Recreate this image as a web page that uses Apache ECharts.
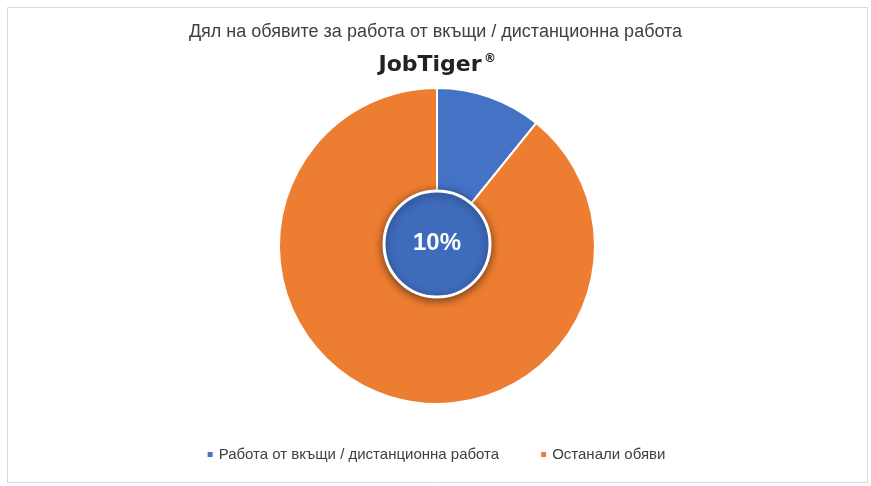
<!DOCTYPE html>
<html><head><meta charset="utf-8">
<script src="https://cdn.jsdelivr.net/npm/echarts@6/dist/echarts.min.js"></script>
<style>html,body{margin:0;padding:0;background:#fff}#c{width:871px;height:486px}</style>
</head><body><div id="c"></div>
<script>
const categories = ['Работа от вкъщи / дистанционна работа', 'Останали обяви'];
const values = [10.8, 89.2];
const centerLabel = '10%';
const colors = ['#4472C4', '#ED7D31'];
const chart = echarts.init(document.getElementById('c'));
chart.setOption({
  animation: false,
  title: {text: 'Дял на обявите за работа от вкъщи / дистанционна работа', left: 'center', top: 18,
    textStyle: {fontFamily: 'Liberation Sans', fontSize: 18, fontWeight: 'normal', color: '#404040'}},
  legend: {bottom: 19, itemWidth: 7, itemHeight: 7, icon: 'rect', itemGap: 40,
    textStyle: {fontFamily: 'Liberation Sans', fontSize: 15, color: '#404040'}},
  graphic: [
    {type: 'rect', left: 5, top: 5, shape: {width: 860, height: 475}, style: {fill: 'none', stroke: '#d9d9d9', lineWidth: 1}},
    {type: 'text', x: 430, y: 65, style: {text: 'JobTiger', font: 'bold 22px "DejaVu Sans"', fill: '#222', align: 'center', verticalAlign: 'middle'}},
    {type: 'text', x: 484, y: 59, style: {text: '®', font: 'bold 12px "DejaVu Sans"', fill: '#222', align: 'left', verticalAlign: 'middle'}},
    {type: 'circle', shape: {cx: 437, cy: 244, r: 53}, style: {fill: '#3F6BBD', stroke: '#fff', lineWidth: 3, shadowBlur: 8, shadowColor: 'rgba(0,0,0,0.5)', shadowOffsetY: 2}, z: 100},
    {type: 'text', x: 437, y: 243, style: {text: centerLabel, font: 'bold 24px "Liberation Sans"', fill: '#fff', align: 'center', verticalAlign: 'middle'}, z: 101}
  ],
  series: [{
    type: 'pie', radius: [0, 158], center: [437, 246], startAngle: 90, clockwise: true,
    label: {show: false}, labelLine: {show: false},
    itemStyle: {borderColor: '#fff', borderWidth: 2},
    data: categories.map((n, i) => ({name: n, value: values[i], itemStyle: {color: colors[i]}}))
  }]
});
</script></body></html>
